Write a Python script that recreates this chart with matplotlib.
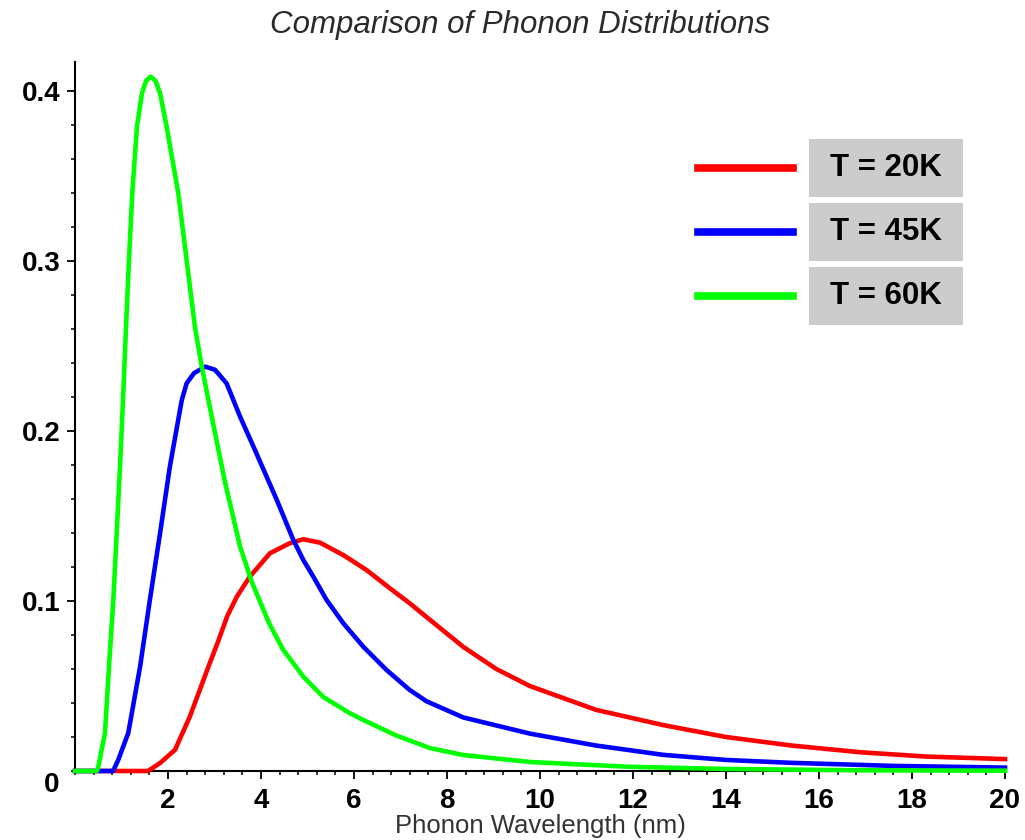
import numpy as np
import matplotlib
matplotlib.use("Agg")
import matplotlib.pyplot as plt
from matplotlib.lines import Line2D
from matplotlib.patches import Rectangle
from matplotlib.ticker import MultipleLocator

plt.rcParams['font.family'] = ['Liberation Sans', 'DejaVu Sans']

# values
x_20K = [0.0, 1.57, 1.83, 2.15, 2.47, 2.87, 3.075, 3.27, 3.48, 3.76, 4.19, 4.62,
         4.91, 5.27, 5.77, 6.27, 6.77, 7.2, 7.63, 8.35, 9.06, 9.78, 11.2, 12.65,
         14.0, 15.4, 16.9, 18.3, 20.0]
y_20K = [0.0, 0.0, 0.0047, 0.0124, 0.032, 0.0614, 0.076, 0.0908, 0.1025, 0.1143,
         0.128, 0.134, 0.1363, 0.1343, 0.127, 0.1182, 0.1075, 0.0986, 0.0890,
         0.073, 0.060, 0.050, 0.036, 0.027, 0.020, 0.015, 0.011, 0.0085, 0.007]

x_45K = [0.0, 0.82, 0.93, 1.146, 1.40, 1.61, 1.83, 2.04, 2.295, 2.40, 2.56, 2.80,
         3.01, 3.26, 3.55, 3.87, 4.34, 4.695, 4.91, 5.125, 5.41, 5.77, 6.2, 6.7,
         7.2, 7.56, 8.35, 9.78, 11.2, 12.65, 14.0, 15.4, 17.6, 20.0]
y_45K = [0.0, 0.0, 0.0065, 0.0224, 0.0614, 0.1006, 0.140, 0.179, 0.218, 0.228,
         0.234, 0.2378, 0.236, 0.228, 0.2084, 0.1888, 0.1594, 0.1359, 0.1241,
         0.1143, 0.1006, 0.0869, 0.0731, 0.0594, 0.0476, 0.041, 0.0315, 0.022,
         0.015, 0.0095, 0.0065, 0.0048, 0.003, 0.002]

x_60K = [0.0, 0.47, 0.50, 0.645, 0.731, 0.824, 0.897, 0.968, 1.032, 1.097, 1.161,
         1.232, 1.333, 1.441, 1.53, 1.628, 1.73, 1.83, 1.97, 2.22, 2.40, 2.58,
         2.725, 2.94, 3.23, 3.55, 3.81, 4.19, 4.48, 4.91, 5.34, 5.91, 6.2, 6.9,
         7.63, 8.35, 9.78, 11.9, 14.0, 17.0, 20.0]
y_60K = [0.0, 0.0, 0.0025, 0.0224, 0.0614, 0.1006, 0.140, 0.179, 0.218, 0.261,
         0.3006, 0.340, 0.379, 0.3986, 0.406, 0.4084, 0.406, 0.3986, 0.379, 0.340,
         0.3006, 0.261, 0.238, 0.2084, 0.1694, 0.132, 0.1106, 0.086, 0.0712,
         0.0555, 0.0435, 0.034, 0.030, 0.021, 0.0135, 0.0094, 0.0053, 0.0025,
         0.0012, 0.0004, 0.0002]

labels = ['T = 20K', 'T = 45K', 'T = 60K']
colors = ['#ff0000', '#0000ff', '#00ff00']

W, H = 1025, 840
fig = plt.figure(figsize=(W / 100, H / 100), dpi=100)
ax = fig.add_axes([75 / W, 1 - 771 / H, 930 / W, 709 / H])

for xs, ys, c in zip([x_20K, x_45K, x_60K], [y_20K, y_45K, y_60K], colors):
    ax.plot(xs, ys, color=c, lw=3.3, solid_joinstyle='round', clip_on=False, zorder=3)

ax.set_xlim(0, 20)
ax.set_ylim(0, 0.417)
ax.spines['top'].set_visible(False)
ax.spines['right'].set_visible(False)
ax.spines['left'].set_linewidth(1.5)
ax.spines['bottom'].set_linewidth(1.5)

ax.set_xticks(np.arange(2, 21, 2))
ax.set_yticks([0.1, 0.2, 0.3, 0.4])
ax.set_yticklabels(['0.1', '0.2', '0.3', '0.4'])
ax.xaxis.set_minor_locator(MultipleLocator(0.4))
ax.yaxis.set_minor_locator(MultipleLocator(0.02))
ax.tick_params(which='major', direction='out', length=5.5, width=1.3)
ax.tick_params(which='minor', direction='out', length=3, width=1.1)
ax.tick_params(axis='x', which='major', pad=7)
ax.tick_params(axis='y', which='major', pad=5)
for lab in ax.get_xticklabels() + ax.get_yticklabels():
    lab.set_fontsize(20)
    lab.set_fontweight('bold')

ax.annotate('0', xy=(0, 0), xytext=(-23, -14), textcoords='offset pixels',
            ha='center', va='center', fontsize=20, fontweight='bold')

fig.text(520 / W, 1 - 25 / H, 'Comparison of Phonon Distributions', ha='center',
         va='center', fontsize=22.5, style='italic', color='#2a2a2a')
fig.text(540 / W, 1 - 826 / H, 'Phonon Wavelength (nm)', ha='center', va='center',
         fontsize=18.5, color='#333333')

# legend built by hand: line sample plus grey label box
for i, (lab, c) in enumerate(zip(labels, colors)):
    yl = 168 + 64 * i
    fig.add_artist(Line2D([698 / W, 793 / W], [1 - yl / H, 1 - yl / H], color=c,
                          lw=5.5, transform=fig.transFigure))
    fig.add_artist(Rectangle((809 / W, 1 - (yl + 29) / H), 154 / W, 58 / H,
                             facecolor='#cccccc', edgecolor='none',
                             transform=fig.transFigure))
    fig.text(886 / W, 1 - yl / H, lab, ha='center', va='center', fontsize=22.5,
             fontweight='bold')

fig.savefig('out.png', dpi=100)
